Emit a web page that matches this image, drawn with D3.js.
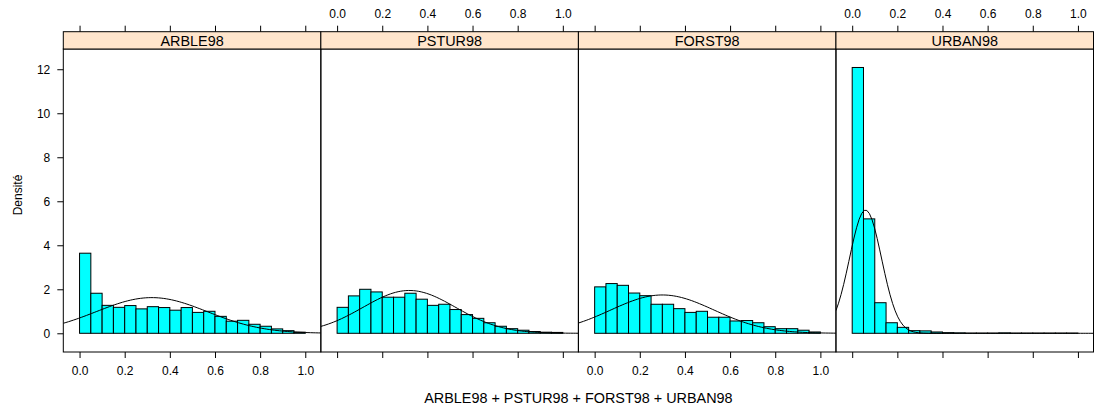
<!DOCTYPE html>
<html>
<head>
    <title>Histogrammes</title>
    <meta charset="utf-8" />
    <script type="text/javascript" src="https://cdn.jsdelivr.net/npm/d3@7/dist/d3.min.js"></script>
    <style>
        body { margin: 0; background: #fff; }
        svg text { font-family: "Liberation Sans", Arial, sans-serif; fill: #000; }
    </style>
</head>
<body>
    <script type="text/javascript">

        // Panels (variables) and histogram bin edges
        var panelNames = ["ARBLE98", "PSTUR98", "FORST98", "URBAN98"];
        var binEdges = [0.00, 0.05, 0.10, 0.15, 0.20, 0.25, 0.30, 0.35, 0.40, 0.45, 0.50,
                        0.55, 0.60, 0.65, 0.70, 0.75, 0.80, 0.85, 0.90, 0.95, 1.00];

        // Density of each bin, per panel
        var arble = [3.64, 1.82, 1.27, 1.18, 1.26, 1.11, 1.21, 1.17, 1.05, 1.17,
                     0.95, 1.00, 0.77, 0.55, 0.59, 0.41, 0.32, 0.20, 0.12, 0.05];
        var pstur = [1.18, 1.70, 2.00, 1.88, 1.64, 1.64, 1.82, 1.55, 1.27, 1.32,
                     1.08, 0.85, 0.68, 0.48, 0.32, 0.21, 0.14, 0.08, 0.05, 0.04];
        var forst = [2.11, 2.26, 2.18, 1.83, 1.71, 1.32, 1.32, 1.12, 0.95, 1.00,
                     0.73, 0.73, 0.56, 0.58, 0.48, 0.30, 0.21, 0.21, 0.14, 0.06];
        var urban = [12.08, 5.20, 1.39, 0.48, 0.27, 0.12, 0.11, 0.06, 0.03, 0.02,
                     0.01, 0.01, 0.01, 0.02, 0.01, 0.01, 0.01, 0.01, 0.01, 0.01];
        var densities = [arble, pstur, forst, urban];

        // Fitted normal curve parameters, per panel
        var normMean = [0.32, 0.32, 0.30, 0.059];
        var normSd = [0.246, 0.205, 0.229, 0.0712];

        // Tick values
        var xTicks = [0.0, 0.2, 0.4, 0.6, 0.8, 1.0];
        var yTicks = [0, 2, 4, 6, 8, 10, 12];

        var w = 1094;
        var h = 408;
        var left = 63.3, right = 1093.5;
        var stripTop = 31.7, panelTop = 49, panelBottom = 352;
        var pw = (right - left) / panelNames.length;

        var svg = d3.select("body").append("svg")
            .attr("width", w)
            .attr("height", h);

        var yScale = d3.scaleLinear()
            .domain([-0.85, 12.92])
            .range([panelBottom, panelTop]);

        var fmt = d3.format(".1f");

        panelNames.forEach(function (name, i) {
            var x0 = left + i * pw;
            var xScale = d3.scaleLinear()
                .domain([-0.072, 1.069])
                .range([x0, x0 + pw]);

            var g = svg.append("g").attr("class", "panel");

            g.append("clipPath")
                .attr("id", "clip" + i)
                .append("rect")
                .attr("x", x0).attr("y", panelTop)
                .attr("width", pw).attr("height", panelBottom - panelTop);

            // bars
            g.append("g")
                .selectAll("rect")
                .data(densities[i])
                .enter()
                .append("rect")
                .attr("x", function (d, k) { return xScale(binEdges[k]); })
                .attr("width", function (d, k) { return xScale(binEdges[k + 1]) - xScale(binEdges[k]); })
                .attr("y", function (d) { return yScale(d); })
                .attr("height", function (d) { return yScale(0) - yScale(d); })
                .attr("fill", "#00FFFF")
                .attr("stroke", "#000")
                .attr("stroke-width", 1);

            // normal density curve over the panel range
            var mu = normMean[i], sd = normSd[i];
            var xs = d3.range(0, 101).map(function (k) { return -0.072 + k * (1.141 / 100); });
            var line = d3.line()
                .x(function (x) { return xScale(x); })
                .y(function (x) {
                    var z = (x - mu) / sd;
                    return yScale(Math.exp(-0.5 * z * z) / (sd * Math.sqrt(2 * Math.PI)));
                });
            g.append("path")
                .datum(xs)
                .attr("clip-path", "url(#clip" + i + ")")
                .attr("d", line)
                .attr("fill", "none")
                .attr("stroke", "#000")
                .attr("stroke-width", 1);

            // panel border
            g.append("rect")
                .attr("x", x0).attr("y", panelTop)
                .attr("width", pw).attr("height", panelBottom - panelTop)
                .attr("fill", "none").attr("stroke", "#000");

            // strip
            g.append("rect")
                .attr("x", x0).attr("y", stripTop)
                .attr("width", pw).attr("height", panelTop - stripTop)
                .attr("fill", "#FFE5CC").attr("stroke", "#000");
            g.append("text")
                .attr("x", x0 + pw / 2).attr("y", 46)
                .attr("text-anchor", "middle")
                .style("font-size", "14.4px")
                .text(name);

            // top axis (labels on panels 2 and 4)
            var top = g.append("g")
                .attr("transform", "translate(0," + stripTop + ")")
                .call(d3.axisTop(xScale).tickValues(xTicks).tickSize(6).tickSizeOuter(0).tickFormat(fmt));
            top.select(".domain").remove();
            top.selectAll("text").attr("y", -13.4).attr("dy", null).style("font-size", "12px")
                .style("display", i % 2 === 1 ? null : "none");

            // bottom axis (labels on panels 1 and 3)
            var bot = g.append("g")
                .attr("transform", "translate(0," + panelBottom + ")")
                .call(d3.axisBottom(xScale).tickValues(xTicks).tickSize(6).tickSizeOuter(0).tickFormat(fmt));
            bot.select(".domain").remove();
            bot.selectAll("text").attr("y", 23).attr("dy", null).style("font-size", "12px")
                .style("display", i % 2 === 0 ? null : "none");
        });

        svg.selectAll(".tick line").attr("stroke", "#000");
        svg.selectAll(".tick text").attr("font-family", null);

        // y axis
        var yAxis = svg.append("g")
            .attr("transform", "translate(" + left + ",0)")
            .call(d3.axisLeft(yScale).tickValues(yTicks).tickSize(6).tickSizeOuter(0));
        yAxis.select(".domain").remove();
        yAxis.selectAll("text").attr("x", -13).attr("font-family", null).style("font-size", "12px");
        yAxis.selectAll(".tick line").attr("stroke", "#000");

        // labels
        svg.append("text")
            .attr("x", (left + right) / 2).attr("y", 403)
            .attr("text-anchor", "middle")
            .style("font-size", "14.4px")
            .text("ARBLE98 + PSTUR98 + FORST98 + URBAN98");

        svg.append("text")
            .attr("transform", "translate(22,195) rotate(-90)")
            .attr("text-anchor", "middle")
            .style("font-size", "12px")
            .text("Densité");

    </script>
</body>
</html>
